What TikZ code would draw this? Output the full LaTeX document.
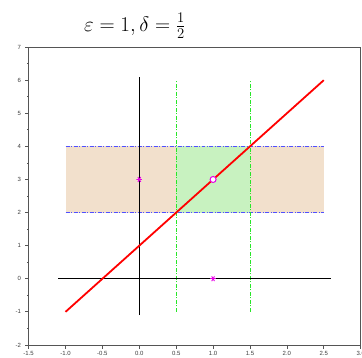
\RequirePackage{fix-cm}
\documentclass[tikz,border=0pt]{standalone}
\usepackage{fontspec}
\newfontfamily\epTickFont{Liberation Sans}
\usepackage{xcolor}
\definecolor{epBeige}{RGB}{242,224,204}
\definecolor{epMint}{RGB}{200,242,192}
\definecolor{epBlue}{RGB}{80,80,255}
\definecolor{epGreen}{RGB}{40,230,40}
\definecolor{epRed}{RGB}{255,0,0}
\definecolor{epMagenta}{RGB}{230,0,230}
\definecolor{epFrame}{RGB}{85,85,85}
\definecolor{epInk}{RGB}{60,60,60}
\usepackage{tikz}
\usetikzlibrary{positioning}
\tikzset{
  ep-frame/.style={draw=epFrame,line width=0.8pt},
  ep-tick/.style={epFrame,line width=0.7pt},
  ep-ticklabel/.style={font=\epTickFont\fontsize{6}{7}\selectfont,text=epInk,inner sep=0pt},
  ep-axis/.style={black,line width=1.4pt},
  ep-graph/.style={epRed,line width=1.8pt},
  ep-band/.style={epBlue,line width=0.8pt,dash pattern=on 4pt off 1.5pt on 1pt off 1.5pt},
  ep-strip/.style={epGreen,line width=0.8pt,dash pattern=on 4pt off 1.5pt on 1pt off 1.5pt},
  ep-star/.style={circle,inner sep=0pt,minimum size=6pt,
    path picture={\foreach \a in {0,60,120}
      \draw[epMagenta,line width=0.9pt] (path picture bounding box.center) ++(\a:3pt) -- ++(\a+180:6pt);}},
  ep-dot/.style={circle,draw=epMagenta,fill=white,line width=1pt,inner sep=0pt,minimum size=6pt},
}
\begin{document}
\begin{tikzpicture}[x=73.8pt,y=33.1pt]
  \useasboundingbox (-1.888,-2.393) rectangle (3.018,8.423);
  % title
  \node[font=\fontsize{21}{25}\selectfont] (title) at (-0.06,7.64) {$\varepsilon = 1, \delta = \frac{1}{2}$};

  % epsilon band and delta strip
  \fill[epBeige] (-1,2) rectangle (2.5,4);
  \fill[epMint] (0.5,2) rectangle (1.5,4);
  \draw[ep-band] (-1,2) -- (2.5,2);
  \draw[ep-band] (-1,4) -- (2.5,4);
  \draw[ep-strip] (0.5,-1) -- (0.5,6);
  \draw[ep-strip] (1.5,-1) -- (1.5,6);

  % axes
  \draw[ep-axis] (-1.1,0) -- (2.6,0);
  \draw[ep-axis] (0,-1.1) -- (0,6.1);

  % graph
  \draw[ep-graph] (-1,-1) -- (2.5,6);

  % marks
  \node[ep-star] (fy) at (0,3) {};
  \node[ep-star] (fx) at (1,0) {};
  \node[ep-dot] (pt) at (1,3) {};

  % frame and ticks
  \draw[ep-frame] (-1.5,-2) rectangle (3,7);
  \foreach \v/\t [count=\k] in {-1.5/-1.5,-1/-1.0,-0.5/-0.5,0/0.0,0.5/0.5,1/1.0,1.5/1.5,2/2.0,2.5/2.5,3/3.0} {
    \draw[ep-tick] (\v,-2) -- ++(0,-4pt);
    \node[ep-ticklabel,below=6pt] (xl\k) at (\v,-2) {\t};
  }
  \foreach \v [count=\k] in {-2,...,7} {
    \draw[ep-tick] (-1.5,\v) -- ++(-4pt,0);
    \node[ep-ticklabel,left=7.5pt] (yl\k) at (-1.5,\v) {\v};
  }
  \foreach \v in {-1.5,-0.5,...,6.5}
    \draw[ep-tick] (-1.5,\v) -- ++(-2pt,0);
\end{tikzpicture}
\end{document}
